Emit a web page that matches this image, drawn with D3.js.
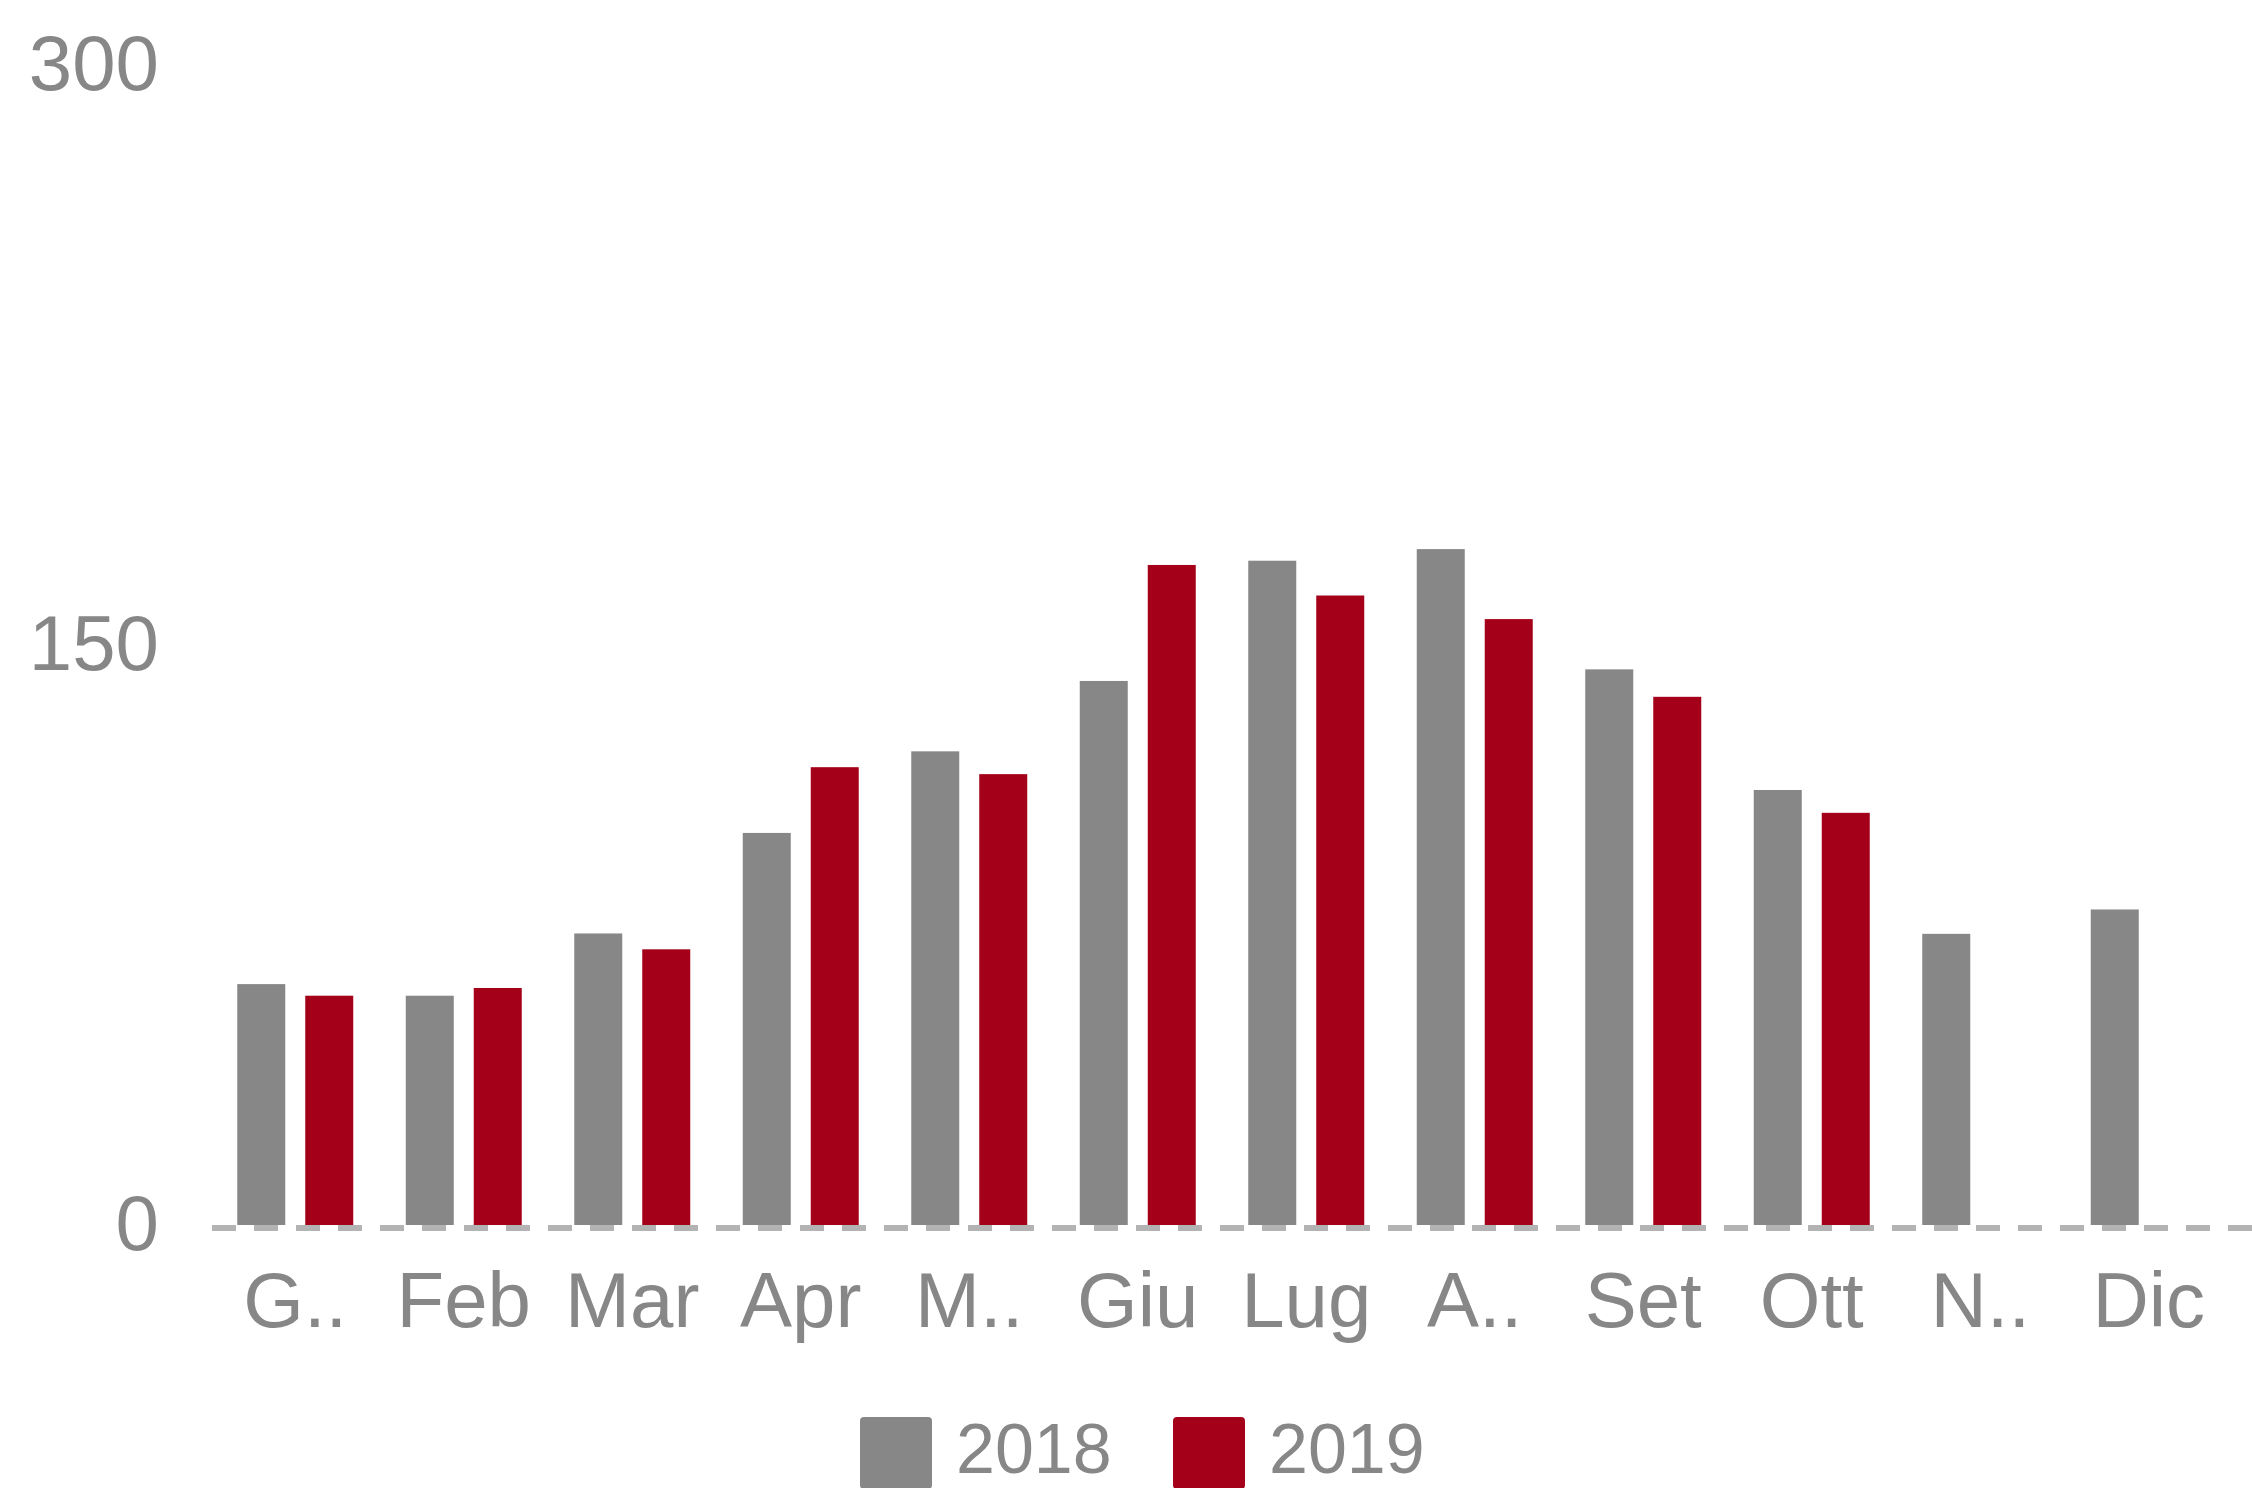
<!DOCTYPE html>
<html>
<head>
<meta charset="utf-8">
<script src="https://cdn.jsdelivr.net/npm/d3@7"></script>
<style>
  html, body { margin: 0; padding: 0; background: #fff; overflow: hidden; }
  text { font-family: "Liberation Sans", Arial, sans-serif; fill: #878787; }
</style>
</head>
<body>
<svg id="chart" width="2252" height="1488"></svg>
<script>
// month labels as shown (some are truncated in the original)
var months = ["G..", "Feb", "Mar", "Apr", "M..", "Giu", "Lug", "A..", "Set", "Ott", "N..", "Dic"];
var years = ["2018", "2019"];
var values2018 = [62.3, 59.3, 75.4, 101.4, 122.5, 140.7, 171.8, 174.8, 143.7, 112.5, 75.3, 81.6];
var values2019 = [59.3, 61.3, 71.3, 118.4, 116.6, 170.7, 162.8, 156.7, 136.6, 106.6, null, null];
var yTicks = [0, 150, 300];
var colors = ["#878787", "#a50019"];

var svg = d3.select("#chart");

var x0 = d3.scaleBand()
    .domain(months)
    .range([211, 2233])
    .paddingInner(0.3116)
    .paddingOuter(0.1558);

var x1 = d3.scaleBand()
    .domain(years)
    .range([0, x0.bandwidth()])
    .paddingInner(0.294);

var y = d3.scaleLinear()
    .domain([0, 300])
    .range([1225, 65]);

// y labels
svg.append("g").selectAll("text")
    .data(yTicks)
    .enter().append("text")
    .attr("x", 159)
    .attr("y", function (d) { return y(d); })
    .attr("dy", "0.32em")
    .attr("text-anchor", "end")
    .style("font-size", "78px")
    .text(function (d) { return d; });

// bars
var series = [values2018, values2019];
var groups = svg.append("g").selectAll("g")
    .data(months)
    .enter().append("g")
    .attr("transform", function (d) { return "translate(" + x0(d) + ",0)"; });

groups.selectAll("rect")
    .data(function (d, i) {
        return years.map(function (yr, j) { return { year: yr, v: series[j][i], c: colors[j] }; })
            .filter(function (e) { return e.v != null; });
    })
    .enter().append("rect")
    .attr("x", function (d) { return x1(d.year); })
    .attr("width", x1.bandwidth())
    .attr("y", function (d) { return y(d.v); })
    .attr("height", function (d) { return y(0) - y(d.v); })
    .attr("fill", function (d) { return d.c; });

// dashed zero line
svg.append("line")
    .attr("x1", 212).attr("x2", 2252)
    .attr("y1", y(0) + 3).attr("y2", y(0) + 3)
    .attr("stroke", "#b3b3b3")
    .attr("stroke-width", 6)
    .attr("stroke-dasharray", "24,18");

// x labels
svg.append("g").selectAll("text")
    .data(months)
    .enter().append("text")
    .attr("x", function (d) { return x0(d) + x0.bandwidth() / 2; })
    .attr("y", 1327)
    .attr("text-anchor", "middle")
    .style("font-size", "78px")
    .text(function (d) { return d; });

// legend (squares run off the bottom edge like the original)
var legendX = [860, 1173];
var legend = svg.append("g").selectAll("g")
    .data(years)
    .enter().append("g")
    .attr("transform", function (d, i) { return "translate(" + legendX[i] + ",1417)"; });

legend.append("rect")
    .attr("width", 72).attr("height", 72)
    .attr("rx", 4)
    .attr("fill", function (d, i) { return colors[i]; });

legend.append("text")
    .attr("x", 96)
    .attr("y", 56)
    .style("font-size", "70px")
    .text(function (d) { return d; });
</script>
</body>
</html>
